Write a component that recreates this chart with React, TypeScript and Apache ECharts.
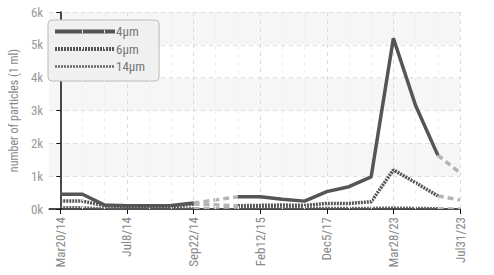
import { useEffect, useRef } from 'react';
import * as echarts from 'echarts';

const categories = ['Mar20/14', '', '', 'Jul8/14', '', '', 'Sep22/14', '', '', 'Feb12/15', '', '', 'Dec5/17', '', '', 'Mar28/23', '', '', 'Jul31/23'];
const labeledIdx = [0, 3, 6, 9, 12, 15, 18];
const yTickValues = [0, 1000, 2000, 3000, 4000, 5000, 6000];
const seriesNames = ['4μm', '6μm', '14μm'];
const p4 = [450, 450, 120, 100, 100, 110, 180, null, 375, 375, 300, 240, 530, 680, 980, 5200, 3150, 1640, 1100];
const p6 = [240, 240, 100, 60, 60, 60, 150, null, 100, 110, 120, 110, 170, 170, 220, 1190, 800, 400, 270];
const p14 = [60, 60, 20, 15, 15, 15, 30, null, 40, 40, 40, 40, 40, 40, 40, 50, 40, 30, 25];
// segments drawn as interpolated (dashed, light)
const dashedSpans = [[6, 8], [17, 18]];

const FONT = "'Roboto Condensed', 'Liberation Sans Narrow', 'DejaVu Sans Condensed', 'Roboto', sans-serif";

export default function App() {
  const ref = useRef<HTMLDivElement>(null);
  useEffect(() => {
    const chart = echarts.init(ref.current!, null, { renderer: 'svg' });
    const all = [p4, p6, p14];
    const styles = [
      { color: '#555', width: 3.5, type: 'solid' as any },
      { color: '#555', width: 3.5, type: [2, 1] as any },
      { color: '#666', width: 2, type: [2, 1] as any },
    ];
    const series: any[] = [];
    all.forEach((vals, k) => {
      const solid = vals.map((v, i) => {
        const isDashedOnlyEnd = dashedSpans.some((s) => s[1] === i && s[1] === vals.length - 1);
        if (v == null || isDashedOnlyEnd) return [i, null];
        return [i, v];
      });
      series.push({
        name: seriesNames[k],
        type: 'line',
        data: solid,
        symbol: 'none',
        lineStyle: styles[k],
        itemStyle: { color: styles[k].color },
        z: 5 - k,
      });
      dashedSpans.forEach((s, j) => {
        series.push({
          name: seriesNames[k] + '_interp' + j,
          type: 'line',
          data: [[s[0], vals[s[0]]], [s[1], vals[s[1]]]],
          symbol: 'none',
          lineStyle: { color: '#b5b5b5', width: styles[k].width, type: [6, 4] },
          z: 4 - k,
        });
      });
    });
    const minorIdx = categories.map((_, i) => i).filter((i) => !labeledIdx.includes(i));
    series.push({
      type: 'line',
      data: [],
      markLine: {
        silent: true,
        symbol: 'none',
        label: { show: false },
        lineStyle: { color: '#ececec', type: [3, 5], width: 1 },
        data: minorIdx.map((i) => ({ xAxis: i })),
      },
    });
    chart.setOption({
      animation: false,
      grid: { left: 42, right: 34, top: 12, bottom: 66 },
      legend: {
        data: seriesNames.map((n, k) => ({
          name: n,
          lineStyle: { width: k === 2 ? 2.5 : 4, type: styles[k].type, color: styles[k].color },
        })),
        orient: 'vertical',
        left: 48,
        top: 20,
        itemWidth: 60,
        itemHeight: 12,
        itemGap: 4.5,
        padding: [5, 14, 8, 5],
        backgroundColor: '#f0f0f0',
        borderColor: '#bbb',
        borderWidth: 1,
        borderRadius: 4,
        itemStyle: { opacity: 0 },
        textStyle: { color: '#777', fontSize: 13, fontFamily: FONT, padding: [0, 0, 0, -4] },
      },
      xAxis: {
        type: 'value',
        min: -0.5,
        max: 18,
        axisLine: { show: true, lineStyle: { color: '#111', width: 1.5 } },
        axisTick: { show: true, customValues: labeledIdx, length: 5, lineStyle: { color: '#111' } },
        axisLabel: {
          customValues: labeledIdx,
          rotate: 90,
          color: '#888',
          fontSize: 13,
          fontFamily: FONT,
          margin: 8,
          formatter: (v: number) => categories[Math.round(v)] ?? '',
        },
        splitLine: { show: true, lineStyle: { color: '#dcdcdc', type: [4, 4] } },
      },
      yAxis: {
        type: 'value',
        min: yTickValues[0],
        max: yTickValues[yTickValues.length - 1],
        interval: 1000,
        name: 'number of particles (1 ml)',
        nameLocation: 'middle',
        nameGap: 28,
        nameTextStyle: { color: '#888', fontSize: 12, fontFamily: FONT },
        axisLine: { show: true, lineStyle: { color: '#111', width: 1.5 } },
        axisTick: { show: true, length: 4, lineStyle: { color: '#111' } },
        axisLabel: {
          color: '#999',
          fontSize: 13,
          fontFamily: FONT,
          margin: 6,
          formatter: (v: number) => v / 1000 + 'k',
        },
        splitLine: { show: true, lineStyle: { color: '#dcdcdc', type: [4, 4] } },
        splitArea: { show: true, areaStyle: { color: ['#ffffff', '#f6f6f6'] } },
      },
      series,
    });
    return () => chart.dispose();
  }, []);
  return <div ref={ref} style={{ width: 494, height: 275, position: 'absolute', left: 0, top: 0 }} />;
}
